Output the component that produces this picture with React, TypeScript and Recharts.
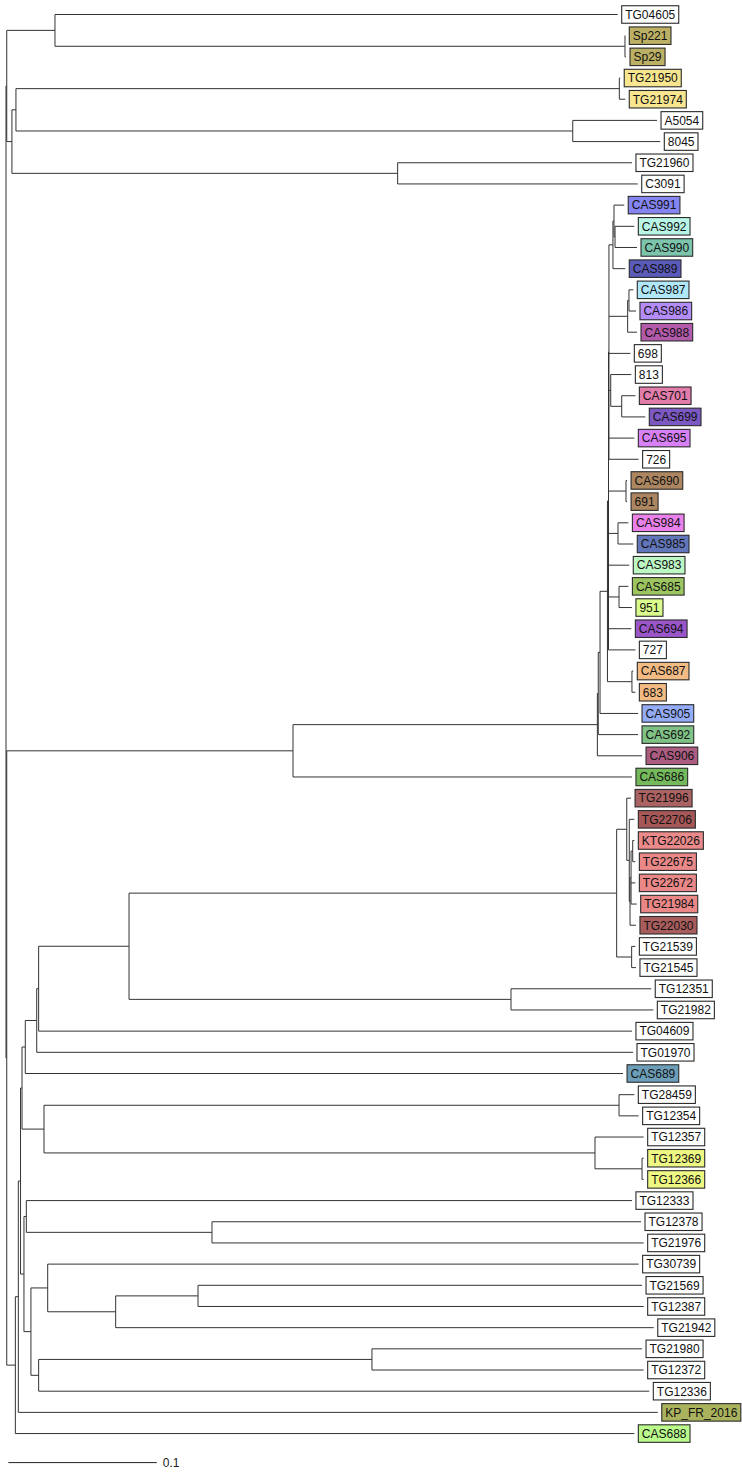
import React from 'react'
import { ComposedChart, XAxis, YAxis, Scatter, ReferenceLine } from 'recharts'

// Tips, top to bottom
const leafNames = [
  'TG04605', 'Sp221', 'Sp29', 'TG21950', 'TG21974', 'A5054', '8045', 'TG21960', 'C3091',
  'CAS991', 'CAS992', 'CAS990', 'CAS989', 'CAS987', 'CAS986', 'CAS988', '698', '813', 'CAS701', 'CAS699', 'CAS695', '726',
  'CAS690', '691', 'CAS984', 'CAS985', 'CAS983', 'CAS685', '951', 'CAS694', '727', 'CAS687', '683', 'CAS905', 'CAS692', 'CAS906', 'CAS686',
  'TG21996', 'TG22706', 'KTG22026', 'TG22675', 'TG22672', 'TG21984', 'TG22030', 'TG21539', 'TG21545', 'TG12351', 'TG21982', 'TG04609', 'TG01970', 'CAS689',
  'TG28459', 'TG12354', 'TG12357', 'TG12369', 'TG12366', 'TG12333', 'TG12378', 'TG21976', 'TG30739', 'TG21569', 'TG12387', 'TG21942', 'TG21980', 'TG12372', 'TG12336', 'KP_FR_2016', 'CAS688',
]

// distance of each tip from the root (substitutions / site)
const leafDepths = [
  0.4122, 0.4173, 0.4178, 0.4139, 0.4173, 0.4387, 0.4409, 0.4218, 0.4257,
  0.4166, 0.4234, 0.4252, 0.4173, 0.4227, 0.4245, 0.4252, 0.4207, 0.4214, 0.4241, 0.4308, 0.4234, 0.4263,
  0.4185, 0.4185, 0.4194, 0.4227, 0.4200, 0.4194, 0.4218, 0.4214, 0.4241, 0.4227, 0.4241, 0.4259, 0.4259, 0.4286, 0.4218,
  0.4212, 0.4234, 0.4234, 0.4241, 0.4241, 0.4250, 0.4245, 0.4241, 0.4245, 0.4348, 0.4362, 0.4218, 0.4225, 0.4158,
  0.4234, 0.4263, 0.4297, 0.4297, 0.4297, 0.4218, 0.4279, 0.4297, 0.4263, 0.4286, 0.4297, 0.4365, 0.4286, 0.4297, 0.4335, 0.4392, 0.4234,
]

const W = '#ffffff'
const leafColors = [
  W, '#bcb065', '#bcb065', '#f7e68f', '#f7e68f', W, W, W, W,
  '#8585f2', '#b8f5e6', '#7cc4ac', '#5a5ab8', '#b0e8fa', '#b48cf7', '#b35aab', W, W, '#e27cab', '#7b58c2', '#d880f5', W,
  '#ab8660', '#ab8660', '#ea80ea', '#6276ba', '#bdf7c4', '#9cc560', '#dafc8c', '#9a55c8', W, '#f2bb84', '#f2bb84', '#94acf7', '#80c285', '#ab5c80', '#74ba5c',
  '#ab6262', '#a65858', '#ea8a8a', '#ea8888', '#ea8888', '#ea8888', '#a85c5c', W, W, W, W, W, W, '#6d9eb8',
  W, W, W, '#eef782', '#eef782', W, W, W, W, W, W, W, W, W, W, '#aab25e', '#bafb8c',
]

// internal nodes: [id, depth, children]
const clades: [string, number, string[]][] = [
  ['R', 0.0, ['N', 'S']],
  ['N', 0.0005, ['P', 'Q']],
  ['P', 0.033, ['TG04605', 'SP']],
  ['SP', 0.4171, ['Sp221', 'Sp29']],
  ['Q', 0.004, ['T', 'K1']],
  ['T', 0.0067, ['Y50', 'A50']],
  ['Y50', 0.4133, ['TG21950', 'TG21974']],
  ['A50', 0.3819, ['A5054', '8045']],
  ['K1', 0.2639, ['TG21960', 'C3091']],
  ['S', 0.0005, ['CR', 'D']],
  ['CR', 0.1934, ['U1', 'CAS686']],
  ['U1', 0.3985, ['U2', 'CAS906']],
  ['U2', 0.3991, ['U3', 'CAS692']],
  ['U3', 0.4003, ['U4', 'CAS905']],
  ['U4', 0.4053, ['Z', 'C687']],
  ['Z', 0.406, ['Z1', 'C690', 'C984', 'CAS983', 'C685', 'CAS694', '727']],
  ['Z1', 0.4063, ['V1', 'W1', '698', 'X1', 'CAS695', '726']],
  ['V1', 0.409, ['Va', 'CAS989']],
  ['Va', 0.4097, ['CAS991', 'V2']],
  ['V2', 0.4104, ['CAS992', 'CAS990']],
  ['W1', 0.4189, ['W2', 'CAS988']],
  ['W2', 0.4198, ['CAS987', 'CAS986']],
  ['X1', 0.4075, ['813', 'X2']],
  ['X2', 0.4149, ['CAS701', 'CAS699']],
  ['C690', 0.4178, ['CAS690', '691']],
  ['C984', 0.4124, ['CAS984', 'CAS985']],
  ['C685', 0.4131, ['CAS685', '951']],
  ['C687', 0.4218, ['CAS687', '683']],
  ['D', 0.0063, ['C', 'CAS688']],
  ['C', 0.0083, ['B', 'KP_FR_2016']],
  ['B', 0.0098, ['A', 'B2']],
  ['A', 0.0108, ['A1', 'A5']],
  ['A1', 0.013, ['A2', 'CAS689']],
  ['A2', 0.0207, ['A3', 'TG01970']],
  ['A3', 0.022, ['A4', 'TG04609']],
  ['A4', 0.0829, ['AA0', 'T51']],
  ['T51', 0.3403, ['TG12351', 'TG21982']],
  ['AA0', 0.4115, ['AA', 'T39']],
  ['AA', 0.4183, ['TG21996', 'AB']],
  ['AB', 0.42, ['TG22706', 'AC']],
  ['AC', 0.4205, ['AD', 'TG22030']],
  ['AD', 0.4212, ['AE', 'TG22672', 'TG21984']],
  ['AE', 0.4223, ['KTG22026', 'TG22675']],
  ['T39', 0.4216, ['TG21539', 'TG21545']],
  ['A5', 0.0256, ['T59', 'T57']],
  ['T59', 0.4131, ['TG28459', 'TG12354']],
  ['T57', 0.3969, ['TG12357', 'T69']],
  ['T69', 0.4286, ['TG12369', 'TG12366']],
  ['B2', 0.0121, ['B3', 'B4']],
  ['B3', 0.0137, ['TG12333', 'T78']],
  ['T78', 0.1388, ['TG12378', 'TG21976']],
  ['B4', 0.0168, ['B5', 'B7']],
  ['B5', 0.0281, ['TG30739', 'B6']],
  ['B6', 0.0739, ['T569', 'TG21942']],
  ['T569', 0.1294, ['TG21569', 'TG12387']],
  ['B7', 0.022, ['T80', 'TG12336']],
  ['T80', 0.2466, ['TG21980', 'TG12372']],
]

const scaleBar = { start: 0.0016, length: 0.1, label: '0.1' }

// layout: 1484 px per unit, root 6px from the left, tips 21.18px apart starting at 14.5px
const X_DOMAIN: [number, number] = [-6 / 1484, 736 / 1484]
const Y_DOMAIN: [number, number] = [-14.5 / 21.18, (1473 - 14.5) / 21.18]
const SCALE_ROW = (1462.6 - 14.5) / 21.18

const FONT = "'Liberation Sans', Arial, Helvetica, sans-serif"

const cladeMap: Record<string, { depth: number; children: string[] }> = {}
clades.forEach(([id, depth, children]) => (cladeMap[id] = { depth, children }))

const nodePos: Record<string, { x: number; y: number }> = {}
function place(id: string): { x: number; y: number } {
  if (nodePos[id]) return nodePos[id]
  const li = leafNames.indexOf(id)
  if (li >= 0) {
    nodePos[id] = { x: leafDepths[li], y: li }
  } else {
    const c = cladeMap[id]
    const kids = c.children.map(place)
    nodePos[id] = { x: c.depth, y: (kids[0].y + kids[kids.length - 1].y) / 2 }
  }
  return nodePos[id]
}
place('R')

type Seg = { x1: number; y1: number; x2: number; y2: number }
const segments: Seg[] = []
clades.forEach(([id, depth, children]) => {
  const kids = children.map(k => nodePos[k])
  segments.push({ x1: depth, y1: kids[0].y, x2: depth, y2: kids[kids.length - 1].y })
  kids.forEach(k => segments.push({ x1: depth, y1: k.y, x2: k.x, y2: k.y }))
})

const leafData = leafNames.map((name, i) => ({ x: leafDepths[i], y: i, name, color: leafColors[i] }))

let ctx: CanvasRenderingContext2D | null = null
function textWidth(s: string) {
  if (!ctx) ctx = document.createElement('canvas').getContext('2d')
  if (ctx) {
    ctx.font = `12px ${FONT}`
    return ctx.measureText(s).width
  }
  return s.length * 6.7
}

const LeafLabel = (props: any) => {
  const { cx, cy, payload } = props
  if (cx == null || cy == null) return null
  const w = textWidth(payload.name) + 7
  const left = cx + 4
  return (
    <g>
      <rect x={left} y={cy - 8.75} width={w} height={17.5} fill={payload.color} stroke="#2a2a2a" strokeWidth={1.1} />
      <text x={left + 3.5} y={cy + 4.3} fontSize={12} fontFamily={FONT} fill="#111">
        {payload.name}
      </text>
    </g>
  )
}

const ScaleLabel = (props: any) => {
  const { cx, cy } = props
  if (cx == null || cy == null) return null
  return (
    <text x={cx + 6} y={cy + 4.5} fontSize={12} fontFamily={FONT} fill="#222" stroke="none">
      {scaleBar.label}
    </text>
  )
}

export default function App() {
  return (
    <div style={{ width: 742, height: 1473, background: '#fff' }}>
      <style>{'body{margin:0}'}</style>
      <ComposedChart width={742} height={1473} margin={{ top: 0, right: 0, bottom: 0, left: 0 }}>
        <XAxis type="number" dataKey="x" domain={X_DOMAIN} allowDataOverflow hide />
        <YAxis type="number" dataKey="y" domain={Y_DOMAIN} allowDataOverflow reversed hide />
        {segments.map((s, i) => (
          <ReferenceLine
            key={i}
            segment={[{ x: s.x1, y: s.y1 }, { x: s.x2, y: s.y2 }]}
            stroke="#333"
            strokeWidth={1}
            ifOverflow="visible"
          />
        ))}
        <ReferenceLine
          segment={[{ x: scaleBar.start, y: SCALE_ROW }, { x: scaleBar.start + scaleBar.length, y: SCALE_ROW }]}
          stroke="#222"
          strokeWidth={1}
          ifOverflow="visible"
        />
        <Scatter data={leafData} shape={LeafLabel} fill="#222" isAnimationActive={false} />
        <Scatter
          data={[{ x: scaleBar.start + scaleBar.length, y: SCALE_ROW }]}
          shape={ScaleLabel}
          fill="#222"
          isAnimationActive={false}
        />
      </ComposedChart>
    </div>
  )
}
